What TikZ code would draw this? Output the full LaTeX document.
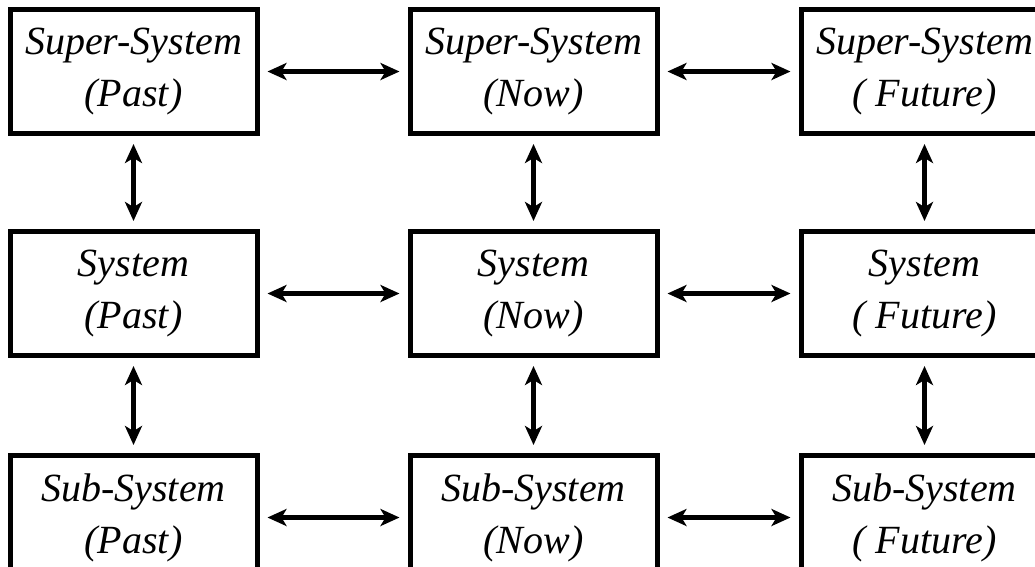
\documentclass[tikz,border=0pt]{standalone}
\usepackage{fontspec}
\setmainfont{Liberation Serif}
\usetikzlibrary{positioning, arrows.meta}
\tikzset{node distance=93pt and 148pt, % vertical and horizontal gap between boxes
box/.style={ % one time/level box
draw, line width=5pt,
minimum width=247pt, minimum height=124pt,
inner sep=0pt, align=center,
font=\fontsize{40}{52}\selectfont\itshape},
every edge/.style={ % double headed links
draw, line width=4.5pt,
{Stealth[length=19pt,width=17pt,inset=5pt]}-{Stealth[length=19pt,width=17pt,inset=5pt]},
shorten >=8pt, shorten <=8pt}}

\begin{document}
\begin{tikzpicture}[x=1pt, y=1pt]
    \useasboundingbox (0,-566) rectangle (1035,0);

    \node[box] (supP) at (133.5,-71.5) {Super-System\\(Past)};
    \node[box, right=of supP] (supN) {Super-System\\(Now)};
    \node[box, right=139pt of supN] (supF) {Super-System\\( Future)};

    \node[box, below=of supP] (sysP) {System\\(Past)};
    \node[box, right=of sysP] (sysN) {System\\(Now)};
    \node[box, right=139pt of sysN] (sysF) {System\\( Future)};

    \node[box, below=95pt of sysP] (subP) {Sub-System\\(Past)};
    \node[box, right=of subP] (subN) {Sub-System\\(Now)};
    \node[box, right=139pt of subN] (subF) {Sub-System\\( Future)};

    \draw (supP) edge (supN);
    \draw (supN) edge (supF);
    \draw (sysP) edge (sysN);
    \draw (sysN) edge (sysF);
    \draw (subP) edge (subN);
    \draw (subN) edge (subF);

    \draw (supP) edge (sysP);
    \draw (supN) edge (sysN);
    \draw (supF) edge (sysF);
    \draw (sysP) edge (subP);
    \draw (sysN) edge (subN);
    \draw (sysF) edge (subF);

\end{tikzpicture}
\end{document}
